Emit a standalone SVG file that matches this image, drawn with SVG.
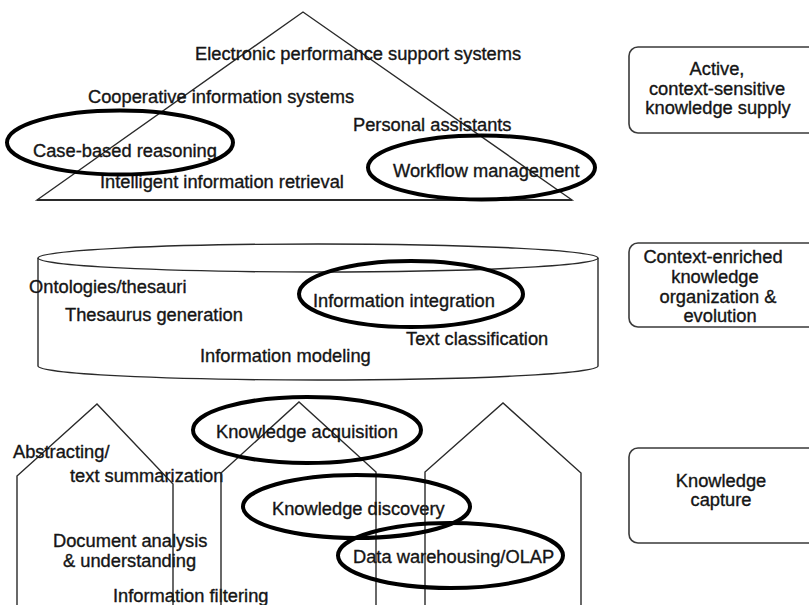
<svg xmlns="http://www.w3.org/2000/svg" width="809" height="605" viewBox="0 0 809 605">
<style>
  text { font-family: "Liberation Sans", Arial, sans-serif; font-size: 18.3px; fill: #151515; stroke: #151515; stroke-width: 0.35; }
  .shape { fill: none; stroke: #2a2a2a; stroke-width: 1.4; stroke-linejoin: miter; }
  .ring { fill: none; stroke: #000; stroke-width: 4; }
  .box { fill: none; stroke: #3a3a3a; stroke-width: 1.6; }
  .c { text-anchor: middle; }
</style>
<rect x="0" y="0" width="809" height="605" fill="#ffffff"/>

<g id="pyramid">
  <polygon class="shape" points="37,200 303,12 572,200"/>
  <line x1="37" y1="200" x2="572" y2="200" stroke="#2a2a2a" stroke-width="2"/>
  <text x="195" y="60">Electronic performance support systems</text>
  <text x="88" y="103">Cooperative information systems</text>
  <text x="353" y="131">Personal assistants</text>
  <text x="33" y="157">Case-based reasoning</text>
  <text x="100" y="188">Intelligent information retrieval</text>
  <text x="393" y="177">Workflow management</text>
</g>

<g id="cylinder">
  <ellipse class="shape" cx="318" cy="258" rx="280" ry="14"/>
  <path class="shape" d="M38,258 L38,366 A280,14 0 0 0 598,366 L598,258"/>
  <text x="29" y="293">Ontologies/thesauri</text>
  <text x="65" y="321">Thesaurus generation</text>
  <text x="313" y="307">Information integration</text>
  <text x="406" y="345">Text classification</text>
  <text x="200" y="362">Information modeling</text>
</g>

<g id="house1">
  <polyline class="shape" points="17,612 17,476 97,404 173,484 173,612"/>
  <text x="13" y="458">Abstracting/</text>
  <text x="70" y="482">text summarization</text>
  <text x="53" y="547">Document analysis</text>
  <text x="63" y="567">&amp; understanding</text>
  <text x="113" y="602">Information filtering</text>
</g>

<g id="house2">
  <polyline class="shape" points="221,612 221,473 299,402 376,472 376,612"/>
  <text x="216" y="438">Knowledge acquisition</text>
  <text x="272" y="515">Knowledge discovery</text>
</g>

<g id="house3">
  <polyline class="shape" points="425,612 425,472 503,403 581,473 581,612"/>
  <text x="353" y="563">Data warehousing/OLAP</text>
</g>

<g id="highlights">
  <ellipse class="ring" cx="120" cy="142.5" rx="113" ry="32"/>
  <ellipse class="ring" cx="481.5" cy="167.5" rx="113.5" ry="32"/>
  <ellipse class="ring" cx="411" cy="294" rx="112" ry="33"/>
  <ellipse class="ring" cx="307" cy="430" rx="114" ry="33"/>
  <ellipse class="ring" cx="356.5" cy="506.5" rx="113.5" ry="31.5"/>
  <ellipse class="ring" cx="450.5" cy="555.5" rx="112.5" ry="32.5"/>
</g>

<g id="label-supply">
  <rect class="box" x="629" y="47" width="190" height="86" rx="9"/>
  <text class="c" x="717" y="75">Active,</text>
  <text class="c" x="717" y="95">context-sensitive</text>
  <text class="c" x="718" y="114">knowledge supply</text>
</g>

<g id="label-organization">
  <rect class="box" x="629" y="243" width="190" height="84" rx="9"/>
  <text class="c" x="713" y="263">Context-enriched</text>
  <text class="c" x="715" y="283">knowledge</text>
  <text class="c" x="718" y="303">organization &amp;</text>
  <text class="c" x="720" y="322">evolution</text>
</g>

<g id="label-capture">
  <rect class="box" x="629" y="448" width="190" height="95" rx="9"/>
  <text class="c" x="721" y="487">Knowledge</text>
  <text class="c" x="721" y="506">capture</text>
</g>

<g id="connectors"></g>
</svg>
